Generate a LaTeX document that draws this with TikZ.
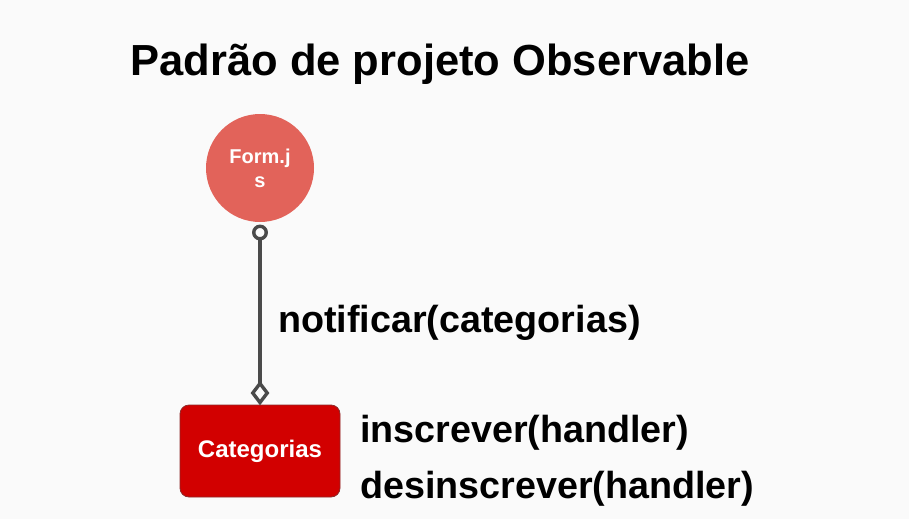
\documentclass[tikz,border=0pt]{standalone}
\usepackage{fontspec}
\setmainfont{Liberation Sans}
\usetikzlibrary{shapes.geometric}
\definecolor{pagebg}{HTML}{FAFAFA}
\definecolor{formfill}{HTML}{E2635A}
\definecolor{catfill}{HTML}{D20000}
\definecolor{catedge}{HTML}{8E2A2A}
\definecolor{linkgray}{HTML}{4A4A4A}
\begin{document}
\begin{tikzpicture}[x=1pt,y=-1pt,
  titletext/.style={font=\fontsize{43.5}{50}\selectfont\bfseries, inner sep=0pt},
  methodtext/.style={font=\fontsize{37.7}{44}\selectfont\bfseries, inner sep=0pt, anchor=base west},
  module/.style={circle, fill=formfill, minimum size=108pt, inner sep=0pt,
    text=white, align=center, font=\fontsize{20}{24}\selectfont\bfseries},
  store/.style={rounded corners=9pt, fill=catfill, draw=catedge, line width=0.8pt,
    minimum width=160pt, minimum height=92pt, text=white,
    font=\fontsize{24}{28}\selectfont\bfseries},
  endring/.style={circle, draw=linkgray, fill=pagebg, line width=3.4pt,
    minimum size=12.5pt, inner sep=0pt, outer sep=0pt},
  enddiamond/.style={diamond, draw=linkgray, fill=pagebg, line width=3.4pt,
    minimum width=14.5pt, minimum height=19pt, inner sep=0pt, outer sep=0pt},
  link/.style={draw=linkgray, line width=3.6pt}
]
\fill[pagebg] (0,0) rectangle (909,519);
\useasboundingbox (0,0) rectangle (909,519);

\node[titletext, anchor=base] (title) at (440,75) {Padrão de projeto Observable};

\node[module] (form) at (260,168) {Form.j\\s};
\node[store] (cat) at (260,451) {Categorias};

% association ends: open ring at the subject, open diamond at the store
\node[endring] (ring) at (260,232.5) {};
\node[enddiamond] (dia) at (260,393) {};
\draw[link] (ring.south) -- (dia.north);

\node[methodtext] (notify) at (278,332) {notificar(categorias)};
\node[methodtext] (sub) at (360,442) {inscrever(handler)};
\node[methodtext] (unsub) at (360,498) {desinscrever(handler)};
\end{tikzpicture}
\end{document}
